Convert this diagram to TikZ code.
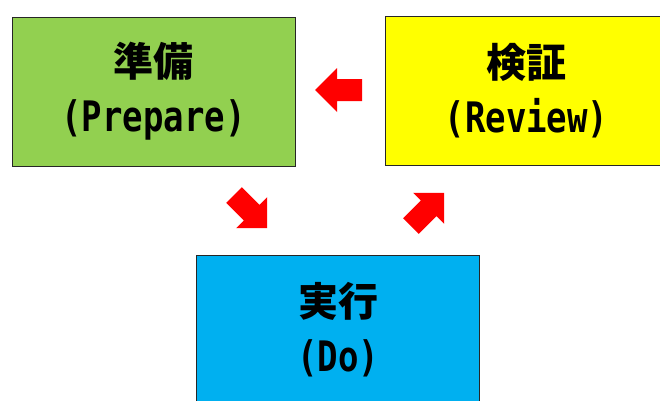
\documentclass[tikz,border=0pt]{standalone}
\usepackage{fontspec}
\setmainfont{Noto Sans CJK JP}
\newfontfamily\latinmono{DejaVu Sans Mono}
\newcommand{\lat}[1]{\scalebox{0.85}[1.05]{\latinmono #1}}
\definecolor{pgreen}{HTML}{92D050}
\definecolor{pyellow}{HTML}{FFFF00}
\definecolor{pblue}{HTML}{00B0F0}
\definecolor{pred}{HTML}{FF0000}
\begin{document}
\begin{tikzpicture}[x=1pt,y=-1pt,
  box/.style={draw=black!85, line width=1pt, minimum width=283pt, minimum height=149pt,
    align=center, inner sep=0pt, font=\fontsize{40}{55}\selectfont\bfseries},
  redarrow/.pic={\fill[pred] (0,-11)--(25,-11)--(25,-22)--(47,0)--(25,22)--(25,11)--(0,11)--cycle;}]
\useasboundingbox (0,0) rectangle (660,400);
\clip (0,0) rectangle (660,400);
\node[box, fill=pgreen] (prep) at (153.5,91.5) {準備\\\lat{(Prepare)}};
\node[box, fill=pyellow] (rev) at (526.5,91) {検証\\\lat{(Review)}};
\node[box, fill=pblue] (do) at (338,330) {実行\\\lat{(Do)}};
\pic[rotate=180] at (362,90) {redarrow};
\pic[rotate=-45] at (234,195) {redarrow};
\pic[rotate=45] at (411,226) {redarrow};
\end{tikzpicture}
\end{document}
